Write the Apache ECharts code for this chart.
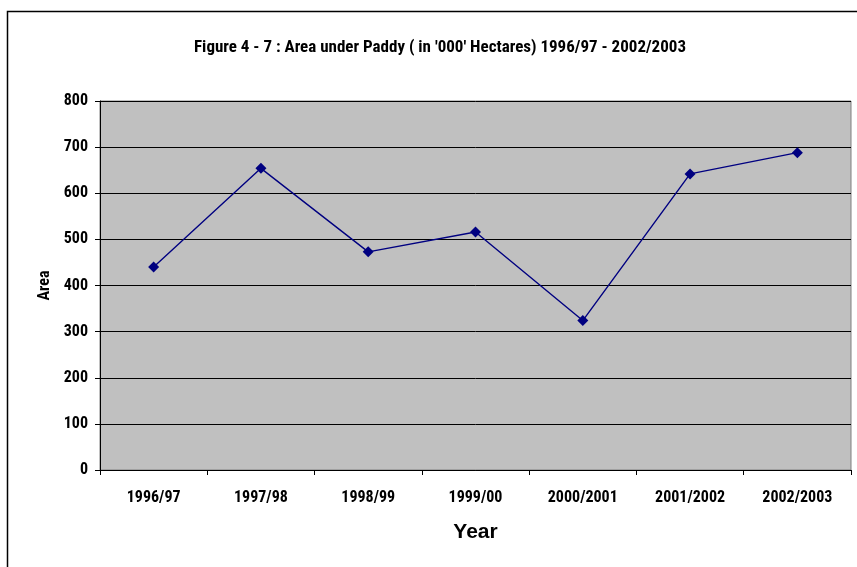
<!DOCTYPE html>
<html><head><meta charset="utf-8">
<script src="https://cdn.jsdelivr.net/npm/echarts@6/dist/echarts.min.js"></script>
<style>html,body{margin:0;padding:0;background:#fff}#c{width:857px;height:567px}</style>
</head><body><div id="c"></div>
<script>
var categories = ['1996/97','1997/98','1998/99','1999/00','2000/2001','2001/2002','2002/2003'];
var areaValues = [440, 654, 473, 516, 324, 642, 688];
var yTicks = [0, 100, 200, 300, 400, 500, 600, 700, 800];

var NARROW = '"Roboto Condensed", "Liberation Sans Narrow", "DejaVu Sans Condensed", sans-serif';
var chart = echarts.init(document.getElementById('c'), null, {renderer: 'canvas'});
chart.setOption({
  animation: false,
  backgroundColor: '#ffffff',
  graphic: [{
    type: 'rect', silent: true, z: -1,
    shape: {x: 7.5, y: 11.5, width: 900, height: 600},
    style: {fill: 'none', stroke: '#000', lineWidth: 1.5}
  }],
  title: {
    text: "Figure 4 - 7 : Area under Paddy ( in '000' Hectares) 1996/97 - 2002/2003",
    left: 435, textAlign: 'center', top: 34,
    textStyle: {fontFamily: NARROW, fontWeight: 'bold', fontSize: 17, color: '#000'}
  },
  grid: {
    left: 100, right: 6, top: 101, bottom: 97,
    show: true, backgroundColor: '#C0C0C0', borderColor: '#808080', borderWidth: 1
  },
  xAxis: {
    type: 'category', data: categories, boundaryGap: true,
    name: 'Year', nameLocation: 'middle', nameGap: 52,
    nameTextStyle: {fontFamily: '"Liberation Sans", Arial, sans-serif', fontWeight: 'bold', fontSize: 21, color: '#000'},
    axisLine: {lineStyle: {color: '#000', width: 1}},
    axisTick: {show: true, length: 5, interval: 0, lineStyle: {color: '#000'}},
    axisLabel: {interval: 0, margin: 20, fontFamily: NARROW, fontWeight: 'bold', fontSize: 16, color: '#000'}
  },
  yAxis: {
    type: 'value', min: yTicks[0], max: yTicks[yTicks.length - 1], interval: 100,
    name: 'Area', nameLocation: 'middle', nameGap: 46,
    nameTextStyle: {fontFamily: NARROW, fontWeight: 'bold', fontSize: 16, color: '#000'},
    axisLine: {show: true, lineStyle: {color: '#000', width: 1}},
    axisTick: {show: true, length: 5, lineStyle: {color: '#000'}},
    axisLabel: {margin: 12, fontFamily: NARROW, fontWeight: 'bold', fontSize: 16, color: '#000'},
    splitLine: {show: true, lineStyle: {color: '#000', width: 1}}
  },
  series: [{
    type: 'line', data: areaValues,
    symbol: 'diamond', symbolSize: 11,
    lineStyle: {color: '#000080', width: 1.4},
    itemStyle: {color: '#000080'}
  }]
});
</script></body></html>
